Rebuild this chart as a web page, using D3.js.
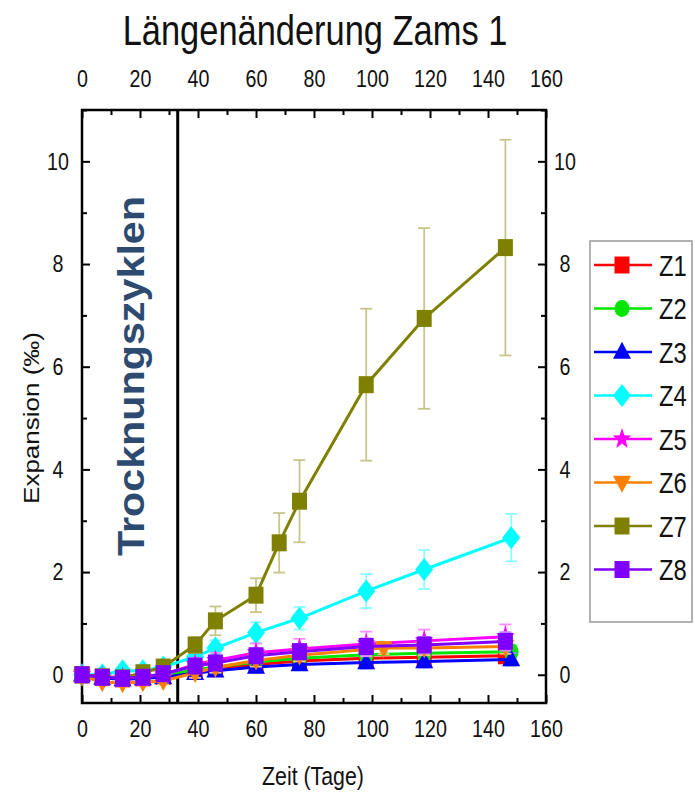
<!DOCTYPE html>
<html>
<head>
<meta charset="utf-8">
<title>Längenänderung Zams 1</title>
<script src="https://d3js.org/d3.v7.min.js"></script>
<style>
  body { margin: 0; background: #fff; }
  text { font-family: 'Liberation Sans', Arial, sans-serif; fill: #111; }
  .axis path { display: none; }
  .axis line { stroke: #000; stroke-width: 2px; }
</style>
</head>
<body>
<div id="chart"></div>
<script>
// measuring days
const dayA = [0, 7, 14, 21, 28, 39, 46, 60, 75, 98, 118, 146];
const dayB = [0, 7, 14, 21, 28, 39, 46, 60, 75, 98, 118, 148];
const dayZ6 = [0, 7, 14, 21, 28, 39, 46, 60, 75, 104, 118, 146];
const dayZ7 = [0, 7, 14, 21, 28, 39, 46, 60, 68, 75, 98, 118, 146];

// expansion values (per mille) and errors
const z1 = [0, -0.05, -0.08, -0.06, -0.03, 0.08, 0.12, 0.2, 0.27, 0.32, 0.34, 0.37];
const z2 = [0, -0.04, -0.07, -0.05, -0.02, 0.1, 0.15, 0.25, 0.32, 0.39, 0.42, 0.45];
const z3 = [0, -0.06, -0.09, -0.07, -0.05, 0.03, 0.08, 0.15, 0.2, 0.24, 0.26, 0.3];
const z4 = [0, 0, 0.08, 0.08, 0.15, 0.35, 0.52, 0.82, 1.1, 1.63, 2.05, 2.67];
const z5 = [0, -0.04, -0.06, -0.04, 0, 0.2, 0.28, 0.43, 0.5, 0.6, 0.66, 0.74];
const z6 = [-0.03, -0.14, -0.16, -0.14, -0.12, 0.04, 0.14, 0.28, 0.38, 0.52, 0.52, 0.55];
const z7 = [0, -0.04, -0.06, 0.04, 0.15, 0.58, 1.05, 1.55, 2.57, 3.38, 5.65, 6.94, 8.32];
const z8 = [0, -0.05, -0.07, -0.05, 0.02, 0.17, 0.23, 0.37, 0.45, 0.55, 0.58, 0.65];

const e1 = [0.05, 0.06, 0.06, 0.06, 0.06, 0.08, 0.08, 0.1, 0.12, 0.12, 0.12, 0.12];
const e2 = [0.05, 0.06, 0.06, 0.06, 0.06, 0.08, 0.09, 0.1, 0.12, 0.12, 0.12, 0.13];
const e3 = [0.05, 0.06, 0.06, 0.06, 0.06, 0.07, 0.08, 0.1, 0.1, 0.12, 0.12, 0.12];
const e4 = [0.05, 0.06, 0.06, 0.06, 0.08, 0.12, 0.15, 0.2, 0.22, 0.33, 0.38, 0.46];
const e5 = [0.05, 0.06, 0.06, 0.06, 0.06, 0.12, 0.15, 0.18, 0.2, 0.24, 0.22, 0.24];
const e6 = [0.06, 0.07, 0.07, 0.07, 0.07, 0.1, 0.1, 0.12, 0.12, 0.12, 0.14, 0.14];
const e7 = [0.04, 0.05, 0.05, 0.05, 0.06, 0.15, 0.28, 0.33, 0.58, 0.8, 1.48, 1.76, 2.1];
const e8 = [0.06, 0.07, 0.07, 0.07, 0.07, 0.1, 0.12, 0.14, 0.15, 0.16, 0.16, 0.18];

const names = ["Z1", "Z2", "Z3", "Z4", "Z5", "Z6", "Z7", "Z8"];
const colors = ["#ff0000", "#00e600", "#0000ff", "#00ffff", "#ff00ff", "#ff8000", "#808000", "#8000ff"];
const shapes = ["square", "circle", "triUp", "diamond", "star", "triDown", "square", "square"];

const xTicks = [0, 20, 40, 60, 80, 100, 120, 140, 160];
const yTicks = [0, 2, 4, 6, 8, 10];
const dryEnd = 33;

const series = [
  { days: dayA, vals: z1, errs: e1 },
  { days: dayB, vals: z2, errs: e2 },
  { days: dayB, vals: z3, errs: e3 },
  { days: dayB, vals: z4, errs: e4 },
  { days: dayA, vals: z5, errs: e5 },
  { days: dayZ6, vals: z6, errs: e6 },
  { days: dayZ7, vals: z7, errs: e7 },
  { days: dayA, vals: z8, errs: e8 }
].map((s, i) => ({
  name: names[i], color: colors[i], shape: shapes[i],
  pts: s.days.map((d, j) => ({ d: d, v: s.vals[j], e: s.errs[j] }))
}));

const W = 695, H = 801;
const K = 0.82; // horizontal squeeze of the text
const pLeft = 82, pRight = 546, pTop = 110, pBottom = 703;

const svg = d3.select("#chart").append("svg")
  .attr("width", W).attr("height", H);

const x = d3.scaleLinear().domain([0, 160]).range([pLeft, pRight]);
const y = d3.scaleLinear().domain([-0.55, 11]).range([pBottom, pTop]);

function marker(shape) {
  let w, h;
  switch (shape) {
    case "square": w = 15; h = 17;
      return `M${-w/2},${-h/2}h${w}v${h}h${-w}Z`;
    case "circle": w = 15; h = 17;
      return `M${-w/2},0a${w/2},${h/2} 0 1,0 ${w},0a${w/2},${h/2} 0 1,0 ${-w},0Z`;
    case "triUp": w = 18; h = 17;
      return `M0,${-h*0.6}L${w/2},${h*0.4}L${-w/2},${h*0.4}Z`;
    case "triDown": w = 18; h = 17;
      return `M0,${h*0.6}L${w/2},${-h*0.4}L${-w/2},${-h*0.4}Z`;
    case "diamond": w = 18; h = 23;
      return `M0,${-h/2}L${w/2},0L0,${h/2}L${-w/2},0Z`;
    case "star": {
      const r = 11, ri = 4.6;
      let p = "";
      for (let k = 0; k < 10; k++) {
        const a = -Math.PI / 2 + k * Math.PI / 5;
        const rr = k % 2 ? ri : r;
        p += (k ? "L" : "M") + (Math.cos(a) * rr * 0.88).toFixed(2) + "," + (Math.sin(a) * rr).toFixed(2);
      }
      return p + "Z";
    }
  }
}

function lighten(c) {
  return d3.interpolateRgb(c, "#ffffff")(0.55);
}

// title
svg.append("text")
  .attr("transform", `translate(315,45) scale(${K},1)`)
  .attr("text-anchor", "middle")
  .attr("font-size", 42)
  .text("Längenänderung Zams 1");

// axes (ticks inward)
const axB = svg.append("g").attr("class", "axis").attr("transform", `translate(0,${pBottom})`)
  .call(d3.axisBottom(x).tickValues(xTicks).tickSize(-8).tickPadding(17));
svg.append("g").attr("class", "axis").attr("transform", `translate(0,${pBottom})`)
  .call(d3.axisBottom(x).tickValues(d3.range(10, 160, 20)).tickSize(-5).tickFormat(""));
const axT = svg.append("g").attr("class", "axis").attr("transform", `translate(0,${pTop})`)
  .call(d3.axisTop(x).tickValues(xTicks).tickSize(-8).tickPadding(23));
svg.append("g").attr("class", "axis").attr("transform", `translate(0,${pTop})`)
  .call(d3.axisTop(x).tickValues(d3.range(10, 160, 20)).tickSize(-5).tickFormat(""));
const axL = svg.append("g").attr("class", "axis").attr("transform", `translate(${pLeft},0)`)
  .call(d3.axisLeft(y).tickValues(yTicks).tickSize(-8));
svg.append("g").attr("class", "axis").attr("transform", `translate(${pLeft},0)`)
  .call(d3.axisLeft(y).tickValues(d3.range(1, 12, 2)).tickSize(-5).tickFormat(""));
const axR = svg.append("g").attr("class", "axis").attr("transform", `translate(${pRight},0)`)
  .call(d3.axisRight(y).tickValues(yTicks).tickSize(-8));
svg.append("g").attr("class", "axis").attr("transform", `translate(${pRight},0)`)
  .call(d3.axisRight(y).tickValues(d3.range(1, 12, 2)).tickSize(-5).tickFormat(""));

[axB, axT].forEach(g => g.selectAll("text")
  .attr("font-size", 24).attr("fill", "#111")
  .attr("font-family", "'Liberation Sans', Arial, sans-serif")
  .attr("transform", `scale(${K},1)`));
axL.selectAll("text")
  .attr("font-size", 24).attr("fill", "#111")
  .attr("font-family", "'Liberation Sans', Arial, sans-serif")
  .attr("text-anchor", "middle").attr("x", (58 - pLeft) / K)
  .attr("transform", `scale(${K},1)`);
axR.selectAll("text")
  .attr("font-size", 24).attr("fill", "#111")
  .attr("font-family", "'Liberation Sans', Arial, sans-serif")
  .attr("text-anchor", "middle").attr("x", (565 - pRight) / K)
  .attr("transform", `scale(${K},1)`);

// frame
svg.append("rect")
  .attr("x", pLeft).attr("y", pTop)
  .attr("width", pRight - pLeft).attr("height", pBottom - pTop)
  .attr("fill", "none").attr("stroke", "#000").attr("stroke-width", 2.5);

// end of drying cycles
svg.append("line")
  .attr("x1", x(dryEnd)).attr("x2", x(dryEnd))
  .attr("y1", pTop).attr("y2", pBottom)
  .attr("stroke", "#000").attr("stroke-width", 3);

svg.append("text")
  .attr("transform", `translate(144,376) rotate(-90) scale(1,0.92)`)
  .attr("text-anchor", "middle")
  .attr("font-family", "'Open Sans', sans-serif")
  .attr("font-weight", "bold")
  .attr("font-size", 40)
  .attr("textLength", 360)
  .attr("lengthAdjust", "spacingAndGlyphs")
  .style("fill", "#2d4b70")
  .text("Trocknungszyklen");

// axis titles
svg.append("text")
  .attr("transform", `translate(313,785) scale(${K},1)`)
  .attr("text-anchor", "middle")
  .attr("font-size", 26)
  .text("Zeit (Tage)");
svg.append("text")
  .attr("transform", `translate(39,418) rotate(-90) scale(1,${K})`)
  .attr("text-anchor", "middle")
  .attr("font-size", 26)
  .text("Expansion (‰)");

// data
const line = d3.line().x(p => x(p.d)).y(p => y(p.v));
const plot = svg.append("g");

series.forEach(s => {
  const g = plot.append("g");
  const eb = g.append("g").attr("stroke", lighten(s.color)).attr("stroke-width", 1.8);
  s.pts.forEach(p => {
    eb.append("line").attr("x1", x(p.d)).attr("x2", x(p.d))
      .attr("y1", y(p.v - p.e)).attr("y2", y(p.v + p.e));
    [p.v - p.e, p.v + p.e].forEach(v => eb.append("line")
      .attr("x1", x(p.d) - 6).attr("x2", x(p.d) + 6)
      .attr("y1", y(v)).attr("y2", y(v)));
  });
  g.append("path").datum(s.pts)
    .attr("d", line)
    .attr("fill", "none")
    .attr("stroke", s.color)
    .attr("stroke-width", 3);
  g.selectAll("path.m").data(s.pts).enter().append("path")
    .attr("class", "m")
    .attr("transform", p => `translate(${x(p.d)},${y(p.v)})`)
    .attr("d", marker(s.shape))
    .attr("fill", s.color);
});

// legend
const lg = svg.append("g");
lg.append("rect")
  .attr("x", 590).attr("y", 241).attr("width", 102).attr("height", 381)
  .attr("fill", "#fff").attr("stroke", "#999").attr("stroke-width", 1.5);
series.forEach((s, i) => {
  const cy = 265 + i * 43.5;
  lg.append("line").attr("x1", 594).attr("x2", 652)
    .attr("y1", cy).attr("y2", cy)
    .attr("stroke", s.color).attr("stroke-width", 2.6);
  lg.append("path")
    .attr("transform", `translate(622,${cy})`)
    .attr("d", marker(s.shape))
    .attr("fill", s.color);
  lg.append("text")
    .attr("transform", `translate(659,${cy + 10.5}) scale(${K},1)`)
    .attr("font-size", 29)
    .text(s.name);
});
</script>
</body>
</html>
